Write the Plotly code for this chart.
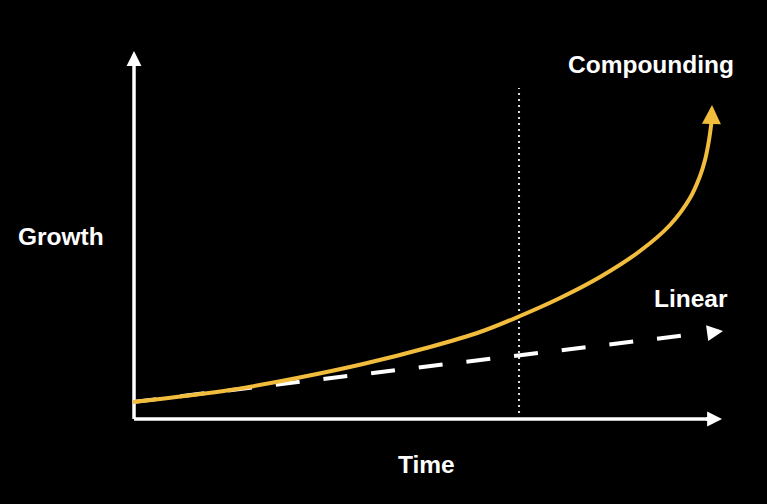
import plotly.graph_objects as go

# ---- data (abstract units: time 0..10, growth 0..10) ----
compound_time = [-0.02, 1.633, 2.772, 3.895, 5.034, 5.884, 6.565, 7.245, 7.925, 8.605,
                 9.116, 9.456, 9.626, 9.711, 9.779, 9.821]
compound_growth = [0.462, 0.788, 1.114, 1.495, 1.957, 2.364, 2.799, 3.288, 3.859, 4.565,
                   5.272, 6.005, 6.603, 7.038, 7.582, 8.071]
compound_tip = (9.830, 8.533)

linear_time = [-0.02, 9.626]
linear_growth = [0.462, 2.323]
linear_tail = (9.745, 2.332)
linear_tip = (10.017, 2.391)

marker_time = 6.548
marker_growth = [0.163, 8.995]

axis_end = 10.0

labels = ["Compounding", "Linear", "Growth", "Time"]
label_time = [8.789, 9.473, -1.236, 4.971]
label_growth = [9.620, 3.264, 4.967, -1.230]

YELLOW = "#F2BC3D"
WHITE = "#FFFFFF"

fig = go.Figure()

# axes lines
fig.add_trace(go.Scatter(x=[0, axis_end - 0.2], y=[0, 0], mode="lines",
                         line=dict(color=WHITE, width=3.5), hoverinfo="skip"))
fig.add_trace(go.Scatter(x=[0, 0], y=[0, axis_end - 0.3], mode="lines",
                         line=dict(color=WHITE, width=3.5), hoverinfo="skip"))

# dotted vertical marker
fig.add_trace(go.Scatter(x=[marker_time, marker_time], y=marker_growth, mode="lines",
                         line=dict(color="#DDDDDD", width=2, dash="2px,4px"), hoverinfo="skip"))

# linear dashed
fig.add_trace(go.Scatter(x=linear_time, y=linear_growth, mode="lines",
                         line=dict(color=WHITE, width=4, dash="24px,24px"), hoverinfo="skip"))

# compounding curve
fig.add_trace(go.Scatter(x=compound_time, y=compound_growth, mode="lines",
                         line=dict(color=YELLOW, width=4, shape="spline", smoothing=1.0),
                         hoverinfo="skip"))

annotations = []


def arrow(tip, tail, color, width, size):
    return dict(x=tip[0], y=tip[1], ax=tail[0], ay=tail[1], xref="x", yref="y",
                axref="x", ayref="y", text="", showarrow=True, arrowhead=2,
                arrowwidth=width, arrowsize=size, arrowcolor=color)


annotations.append(arrow((axis_end, 0), (axis_end - 0.3, 0), WHITE, 3.5, 0.85))
annotations.append(arrow((0, axis_end), (0, axis_end - 0.4), WHITE, 3.5, 0.85))
annotations.append(arrow(compound_tip, (compound_time[-1], compound_growth[-1]), YELLOW, 4, 0.95))
annotations.append(arrow(linear_tip, linear_tail, WHITE, 4, 0.8))

for txt, tx, gy in zip(labels, label_time, label_growth):
    annotations.append(dict(x=tx, y=gy, xref="x", yref="y", text=txt, showarrow=False,
                            xanchor="center", yanchor="middle",
                            font=dict(family="Liberation Sans, Arial, sans-serif",
                                      size=24.5, color=WHITE, weight="bold")))

fig.update_layout(
    width=767, height=504,
    margin=dict(l=0, r=0, t=0, b=0),
    paper_bgcolor="black", plot_bgcolor="black",
    showlegend=False,
    xaxis=dict(range=[-2.279, 10.765], visible=False, fixedrange=True),
    yaxis=dict(range=[-2.310, 11.386], visible=False, fixedrange=True),
    annotations=annotations,
)

fig.write_html(
    "out.html",
    config={"displayModeBar": False},
    post_script="document.body.style.margin='0';document.body.style.padding='0';"
                "document.body.style.background='black';",
)
